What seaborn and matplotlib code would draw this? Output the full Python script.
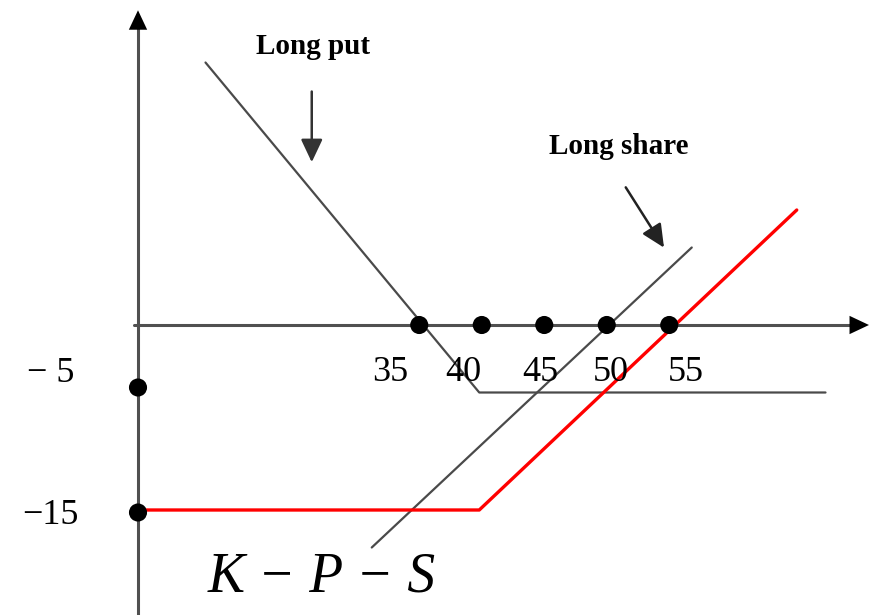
import numpy as np
import pandas as pd
import matplotlib
matplotlib.use("Agg")
import matplotlib.pyplot as plt
import seaborn as sns

# payoff lines (x = share price, y = profit)
put_x = [17.9, 39.8, 67.5]
put_y = [21.0, -5.4, -5.4]
share_x = [31.2, 56.8]
share_y = [-17.8, 6.2]
combo_x = [12.5, 39.8, 65.2]
combo_y = [-14.8, -14.8, 9.2]

strike_ticks = [35, 40, 45, 50, 55]
strike_labels = ["35", "40", "45", "50", "55"]
profit_ticks = [-5, -15]
profit_labels = ["\u2212 5", "\u221215"]

axis_x = 12.5  # where the vertical axis stands

sns.set_style("white")
serif = ["Liberation Serif", "DejaVu Serif"]

fig = plt.figure(figsize=(8.77, 6.15), dpi=100)
ax = fig.add_axes([0, 0, 1, 1])
ax.set_xlim(1.46, 71.62)
ax.set_ylim(-23.2, 26.0)
ax.axis("off")

# axes with arrow heads
axis_col = "#505050"
ax.annotate("", xy=(axis_x, 25.4), xytext=(axis_x, -23.5),
            arrowprops=dict(arrowstyle="-|>,head_length=0.7,head_width=0.33",
                            color="black", lw=0, mutation_scale=20))
ax.plot([axis_x, axis_x], [-23.5, 24.5], color=axis_col, lw=2.2)
ax.annotate("", xy=(71.2, 0), xytext=(12.2, 0),
            arrowprops=dict(arrowstyle="-|>,head_length=0.7,head_width=0.33",
                            color="black", lw=0, mutation_scale=20))
ax.plot([12.2, 70.3], [0, 0], color=axis_col, lw=2.2)

lines = pd.concat([
    pd.DataFrame({"x": put_x, "y": put_y, "kind": "put"}),
    pd.DataFrame({"x": share_x, "y": share_y, "kind": "share"}),
])
sns.lineplot(data=lines, x="x", y="y", units="kind", estimator=None, sort=False,
             color="#4a4a4a", lw=1.6, ax=ax)
sns.lineplot(x=combo_x, y=combo_y, sort=False, estimator=None,
             color="#ff0000", lw=2.4, ax=ax)

# dots on both axes
sns.scatterplot(x=strike_ticks, y=[0] * len(strike_ticks), color="black",
                s=170, edgecolor="none", zorder=5, ax=ax)
sns.scatterplot(x=[axis_x] * len(profit_ticks), y=profit_ticks, color="black",
                s=170, edgecolor="none", zorder=5, ax=ax)

# tick labels (hand-placed like in the drawing)
label_x = [32.7, 38.5, 44.7, 50.3, 56.3]
for lx, lab in zip(label_x, strike_labels):
    ax.text(lx, -3.8, lab, ha="center", va="center", fontsize=26,
            family=serif, color="black")
label_y = [-3.9, -15.2]
for ly, lab in zip(label_y, profit_labels):
    ax.text(5.5, ly, lab, ha="center", va="center", fontsize=26,
            family=serif, color="black")

ax.text(26.5, 22.3, "Long put", ha="center", va="center", fontsize=21,
        fontweight="bold", family=serif, color="black")
ax.annotate("", xy=(26.4, 12.8), xytext=(26.4, 18.9),
            arrowprops=dict(arrowstyle="-|>,head_length=0.7,head_width=0.33",
                            color="#333333", lw=1.8, mutation_scale=20))

ax.text(51.0, 14.3, "Long share", ha="center", va="center", fontsize=21,
        fontweight="bold", family=serif, color="black")
ax.annotate("", xy=(54.7, 6.0), xytext=(51.4, 11.2),
            arrowprops=dict(arrowstyle="-|>,head_length=0.7,head_width=0.33",
                            color="#222222", lw=1.8, mutation_scale=20))

ax.text(27.2, -20.2, "K \u2212 P \u2212 S", ha="center", va="center", fontsize=40,
        fontstyle="italic", family=serif, color="black")

fig.savefig("out.png", dpi=100)
